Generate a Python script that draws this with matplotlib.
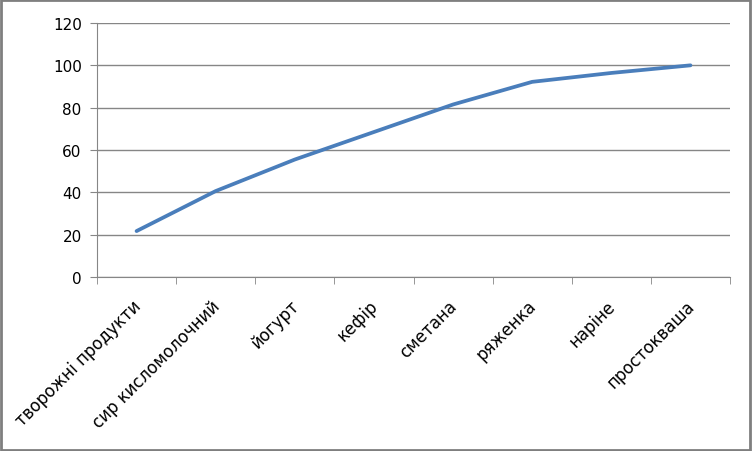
import matplotlib
matplotlib.use('Agg')
import matplotlib.pyplot as plt
import matplotlib.transforms as mtransforms
import numpy as np

plt.rcParams['font.family'] = ['DejaVu Sans']

categories = ['творожні продукти', 'сир кисломолочний', 'йогурт', 'кефір',
              'сметана', 'ряженка', 'наріне', 'простокваша']
values = [21.7, 40.6, 55.5, 68.5, 81.5, 92.2, 96.4, 100.0]
y_ticks = [0, 20, 40, 60, 80, 100, 120]

grid_col = '#868686'

fig = plt.figure(figsize=(7.52, 4.52), dpi=100)
ax = fig.add_axes([97 / 752, 1 - 278 / 452, 633 / 752, 254 / 452])

x = np.arange(len(categories))
ax.plot(x, values, color='#4A7EBB', linewidth=2.7, solid_capstyle='round',
        solid_joinstyle='round', zorder=3)

ax.set_xlim(-0.5, len(categories) - 0.5)
ax.set_ylim(0, 120)
ax.set_yticks(y_ticks)
ax.yaxis.grid(True, color=grid_col, linewidth=1)
ax.set_axisbelow(True)

ax.set_xticks(x)
ax.set_xticklabels(categories, rotation=45, ha='right',
                   rotation_mode='anchor', fontsize=12)
ax.set_xticks(np.arange(-0.5, len(categories)), minor=True)
ax.tick_params(axis='x', which='major', length=0, pad=14)
ax.tick_params(axis='x', which='minor', length=5, color=grid_col)
ax.tick_params(axis='y', length=5, color=grid_col, labelsize=11, pad=6)

# nudge the rotated labels a little to the left
shift = mtransforms.ScaledTranslation(-5 / 100, 0, fig.dpi_scale_trans)
for lab in ax.get_xticklabels():
    lab.set_transform(lab.get_transform() + shift)

for side in ['top', 'right']:
    ax.spines[side].set_visible(False)
for side in ['left', 'bottom']:
    ax.spines[side].set_color(grid_col)

# grey frame round the whole chart
fig.patches.append(plt.Rectangle((0.001, 0.002), 0.997, 0.995,
                                 transform=fig.transFigure, fill=False,
                                 edgecolor='#7f7f7f', linewidth=2))

plt.savefig('out.png', dpi=100)
